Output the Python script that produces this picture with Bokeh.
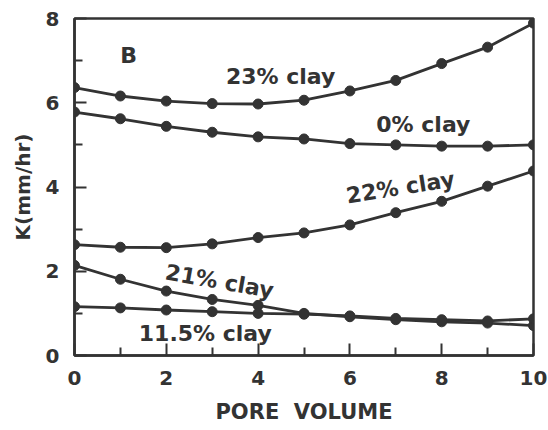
import math
from bokeh.plotting import figure
from bokeh.models import FixedTicker, Label
from bokeh.embed import file_html
from bokeh.resources import INLINE

pore_volume = [0, 1, 2, 3, 4, 5, 6, 7, 8, 9, 10]
clay_23 = [6.36, 6.16, 6.04, 5.98, 5.97, 6.06, 6.28, 6.53, 6.93, 7.32, 7.89]
clay_0 = [5.78, 5.62, 5.44, 5.30, 5.19, 5.14, 5.03, 5.00, 4.97, 4.97, 5.00]
clay_22 = [2.63, 2.57, 2.56, 2.65, 2.80, 2.91, 3.10, 3.39, 3.66, 4.02, 4.38]
clay_21 = [2.14, 1.81, 1.53, 1.33, 1.19, 1.00, 0.92, 0.85, 0.80, 0.77, 0.71]
clay_115 = [1.16, 1.13, 1.08, 1.04, 1.00, 0.98, 0.94, 0.88, 0.85, 0.82, 0.87]

x_ticks = [0, 2, 4, 6, 8, 10]
x_minor = [1, 3, 5, 7, 9]
y_ticks = [0, 2, 4, 6, 8]
y_minor = [1, 3, 5, 7]

labels = ["23% clay", "0% clay", "22% clay", "21% clay", "11.5% clay", "B"]
label_x = [4.49, 7.60, 7.10, 3.16, 2.85, 1.18]
label_y = [6.63, 5.49, 3.99, 1.76, 0.52, 7.13]
label_angle = [0, 0, 9, -10, 0, 0]

INK = "#333333"
FONT = "DejaVu Sans"

p = figure(width=548, height=430, x_range=(0, 10), y_range=(0, 8),
           output_backend="svg", toolbar_location=None,
           min_border_left=74, min_border_right=15, min_border_top=18, min_border_bottom=75)
p.grid.visible = False
p.background_fill_color = "white"
p.border_fill_color = "white"
p.outline_line_color = INK
p.outline_line_width = 2.5

for ax in (p.xaxis[0], p.yaxis[0]):
    ax.axis_line_color = INK
    ax.axis_line_width = 2.5
    ax.major_tick_line_color = INK
    ax.minor_tick_line_color = INK
    ax.major_tick_line_width = 2
    ax.minor_tick_line_width = 2
    ax.major_tick_out = 0
    ax.minor_tick_out = 0
    ax.major_tick_in = 12
    ax.minor_tick_in = 8
    ax.major_label_text_font = FONT
    ax.major_label_text_font_size = "20px"
    ax.major_label_text_font_style = "bold"
    ax.major_label_text_color = INK
    ax.axis_label_text_font = FONT
    ax.axis_label_text_font_style = "bold"
    ax.axis_label_text_color = INK

p.xaxis.ticker = FixedTicker(ticks=x_ticks, minor_ticks=x_minor)
p.yaxis.ticker = FixedTicker(ticks=y_ticks, minor_ticks=y_minor)
p.xaxis.axis_label = "PORE\u00a0\u00a0VOLUME"
p.yaxis.axis_label = "K(mm/hr)"
p.xaxis.axis_label_text_font_size = "21px"
p.yaxis.axis_label_text_font_size = "20px"
p.xaxis.major_label_standoff = 15
p.xaxis.axis_label_standoff = 12
p.yaxis.major_label_standoff = 15
p.yaxis.axis_label_standoff = 8
p.yaxis.major_label_orientation = "horizontal"

for series in (clay_23, clay_0, clay_22, clay_21, clay_115):
    p.line(pore_volume, series, line_color=INK, line_width=2.8)
    p.scatter(pore_volume, series, size=10, fill_color=INK, line_color=INK)

for t, lx, ly, ang in zip(labels, label_x, label_y, label_angle):
    p.add_layout(Label(x=lx, y=ly, text=t, angle=math.radians(ang),
                       text_align="center", text_baseline="middle",
                       text_font=FONT, text_font_style="bold",
                       text_font_size="22px", text_color=INK))

open("out.html", "w").write(file_html(p, INLINE))
